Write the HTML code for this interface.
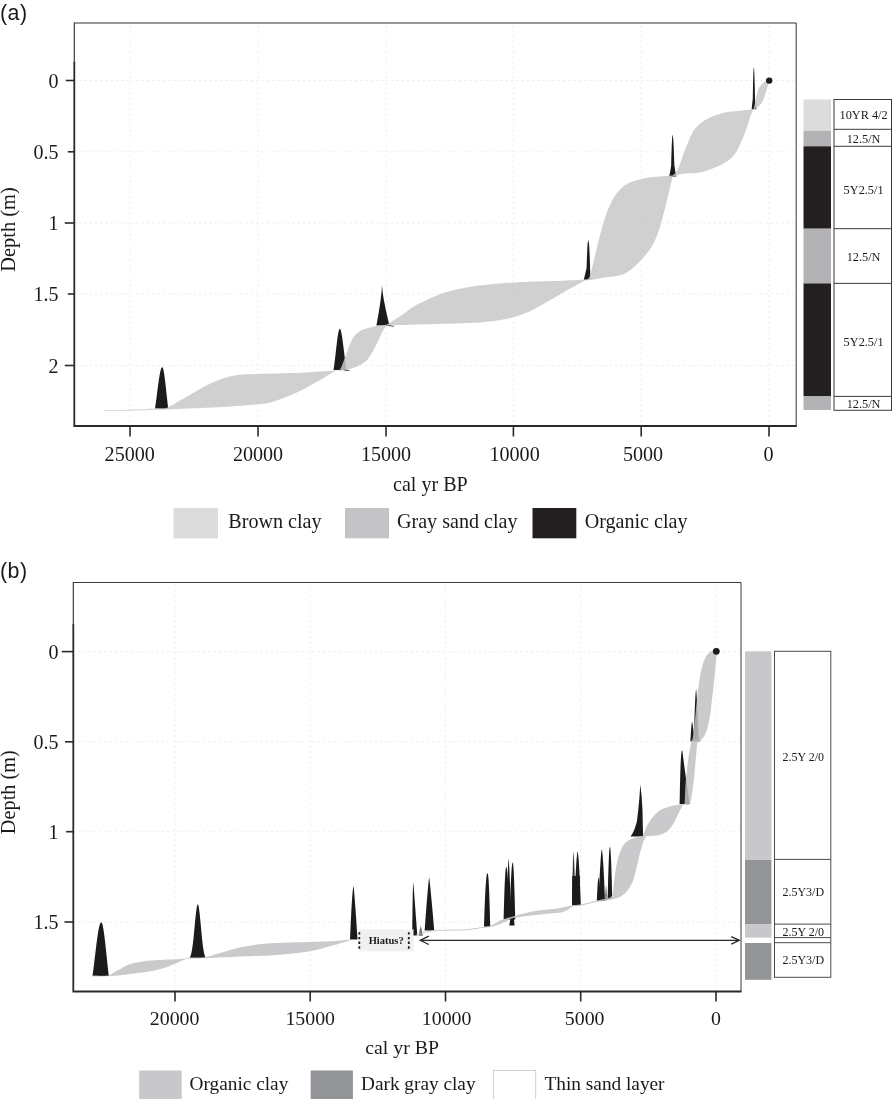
<!DOCTYPE html>
<html><head><meta charset="utf-8"><title>Age-depth models</title>
<style>html,body{margin:0;padding:0;background:#fff;}body{width:892px;height:1099px;overflow:hidden;font-family:"Liberation Serif",serif;}svg{will-change:transform;transform:translateZ(0);}svg text{white-space:pre;-webkit-font-smoothing:antialiased;}</style>
</head><body>
<svg width="892" height="1099" viewBox="0 0 892 1099" style="display:block">
<rect width="892" height="1099" fill="#fff"/>
<line x1="130.0" y1="25.0" x2="130.0" y2="426.0" stroke="#ebebeb" stroke-width="1" stroke-dasharray="2 3.2"/>
<line x1="258.0" y1="25.0" x2="258.0" y2="426.0" stroke="#ebebeb" stroke-width="1" stroke-dasharray="2 3.2"/>
<line x1="386.0" y1="25.0" x2="386.0" y2="426.0" stroke="#ebebeb" stroke-width="1" stroke-dasharray="2 3.2"/>
<line x1="513.4" y1="25.0" x2="513.4" y2="426.0" stroke="#ebebeb" stroke-width="1" stroke-dasharray="2 3.2"/>
<line x1="641.2" y1="25.0" x2="641.2" y2="426.0" stroke="#ebebeb" stroke-width="1" stroke-dasharray="2 3.2"/>
<line x1="769.0" y1="25.0" x2="769.0" y2="426.0" stroke="#ebebeb" stroke-width="1" stroke-dasharray="2 3.2"/>
<line x1="74.3" y1="80.5" x2="796.2" y2="80.5" stroke="#ebebeb" stroke-width="1" stroke-dasharray="2 3.2"/>
<line x1="74.3" y1="151.8" x2="796.2" y2="151.8" stroke="#ebebeb" stroke-width="1" stroke-dasharray="2 3.2"/>
<line x1="74.3" y1="223.0" x2="796.2" y2="223.0" stroke="#ebebeb" stroke-width="1" stroke-dasharray="2 3.2"/>
<line x1="74.3" y1="294.0" x2="796.2" y2="294.0" stroke="#ebebeb" stroke-width="1" stroke-dasharray="2 3.2"/>
<line x1="74.3" y1="365.5" x2="796.2" y2="365.5" stroke="#ebebeb" stroke-width="1" stroke-dasharray="2 3.2"/>
<path d="M155.00 408.60 L155.44 405.57 L155.88 402.38 L156.32 399.08 L156.76 395.69 L157.20 392.26 L157.64 388.84 L158.08 385.49 L158.52 382.26 L158.96 379.21 L159.40 376.39 L159.84 373.87 L160.28 371.70 L160.72 369.91 L161.16 368.55 L161.60 367.65 L162.04 367.23 L162.20 367.20 L162.48 367.34 L162.92 368.14 L163.36 369.60 L163.80 371.70 L164.24 374.35 L164.68 377.49 L165.12 381.01 L165.56 384.83 L166.00 388.84 L166.44 392.95 L166.88 397.05 L167.32 401.07 L167.76 404.94 L168.20 408.60 Z" fill="#1c1a1b"/>
<path d="M333.50 370.00 L333.93 367.13 L334.37 363.96 L334.80 360.55 L335.23 356.93 L335.67 353.18 L336.10 349.37 L336.53 345.61 L336.97 341.98 L337.40 338.61 L337.83 335.59 L338.27 333.03 L338.70 331.02 L339.13 329.63 L339.57 328.90 L339.80 328.80 L340.00 328.87 L340.43 329.46 L340.87 330.65 L341.30 332.40 L341.73 334.66 L342.17 337.34 L342.60 340.38 L343.03 343.69 L343.47 347.17 L343.90 350.74 L344.33 354.31 L344.77 357.81 L345.20 361.18 L345.63 364.36 L346.07 367.31 L346.50 370.00 Z" fill="#1c1a1b"/>
<path d="M345 369.6 L349.5 370.3 L349.5 371 L344 370.8 Z" fill="#444"/>
<path d="M376.40 325.40 L376.84 323.11 L377.27 320.76 L377.71 318.35 L378.15 315.87 L378.58 313.31 L379.02 310.65 L379.46 307.89 L379.89 304.98 L380.33 301.91 L380.77 298.59 L381.20 294.92 L381.64 290.60 L382.00 285.00 L382.08 286.49 L382.51 290.86 L382.95 294.13 L383.39 296.98 L383.82 299.59 L384.26 302.03 L384.70 304.34 L385.13 306.55 L385.57 308.67 L386.01 310.72 L386.44 312.71 L386.88 314.65 L387.32 316.54 L387.75 318.38 L388.19 320.18 L388.63 321.95 L389.06 323.69 L389.50 325.40 Z" fill="#1c1a1b"/>
<path d="M388 324.6 L394 326 L394 326.7 L387 325.8 Z" fill="#444"/>
<path d="M586.30 279.60 L586.44 273.96 L586.57 268.80 L586.71 264.10 L586.85 259.87 L586.98 256.09 L587.12 252.75 L587.26 249.84 L587.39 247.36 L587.53 245.29 L587.67 243.62 L587.80 242.32 L587.94 241.40 L588.08 240.81 L588.21 240.54 L588.30 240.50 L588.35 240.51 L588.49 240.69 L588.62 241.14 L588.76 241.88 L588.90 242.95 L589.03 244.36 L589.17 246.13 L589.31 248.26 L589.44 250.76 L589.58 253.66 L589.72 256.95 L589.85 260.64 L589.99 264.75 L590.13 269.27 L590.26 274.22 L590.40 279.60 Z" fill="#1c1a1b"/>
<path d="M586.6 268 L583.8 279.7 L588 279.7 Z" fill="#1c1a1b"/>
<path d="M670.90 176.30 L671.02 170.52 L671.15 165.18 L671.27 160.28 L671.39 155.81 L671.52 151.77 L671.64 148.17 L671.76 145.00 L671.89 142.27 L672.01 139.97 L672.13 138.11 L672.26 136.68 L672.38 135.69 L672.50 135.13 L672.60 135.00 L672.63 135.01 L672.75 135.23 L672.87 135.77 L673.00 136.62 L673.12 137.79 L673.24 139.27 L673.37 141.07 L673.49 143.18 L673.61 145.60 L673.74 148.34 L673.86 151.39 L673.98 154.76 L674.11 158.44 L674.23 162.43 L674.35 166.74 L674.48 171.36 L674.60 176.30 Z" fill="#1c1a1b"/>
<path d="M671.2 166 L669.2 176.4 L676.3 176.4 L674.3 166 Z" fill="#1c1a1b"/>
<path d="M752.60 109.00 L752.69 103.19 L752.77 97.82 L752.86 92.89 L752.95 88.39 L753.03 84.32 L753.12 80.69 L753.21 77.49 L753.29 74.73 L753.38 72.41 L753.47 70.52 L753.55 69.06 L753.64 68.04 L753.73 67.46 L753.80 67.30 L753.81 67.30 L753.90 67.51 L753.99 68.04 L754.07 68.89 L754.16 70.06 L754.25 71.54 L754.33 73.35 L754.42 75.48 L754.51 77.92 L754.59 80.69 L754.68 83.78 L754.77 87.18 L754.85 90.91 L754.94 94.95 L755.03 99.31 L755.11 104.00 L755.20 109.00 Z" fill="#1c1a1b"/>
<path d="M752.8 100 L751.6 109.2 L756.4 109.2 L755 100 Z" fill="#1c1a1b"/>
<g opacity="0.85">
<path d="M104.00 410.10 C108.33 410.05 121.33 410.05 130.00 409.80 C138.67 409.55 149.67 409.03 156.00 408.60 C162.33 408.17 159.42 411.13 168.00 407.20 C176.58 403.27 196.83 390.20 207.50 385.00 C218.17 379.80 223.75 377.83 232.00 376.00 C240.25 374.17 245.67 374.55 257.00 374.00 C268.33 373.45 287.00 373.28 300.00 372.70 C313.00 372.12 329.17 370.87 335.00 370.50 L335.00 371.00 C332.50 372.50 325.83 376.67 320.00 380.00 C314.17 383.33 308.00 387.33 300.00 391.00 C292.00 394.67 280.33 399.67 272.00 402.00 C263.67 404.33 260.00 404.08 250.00 405.00 C240.00 405.92 225.67 406.77 212.00 407.50 C198.33 408.23 177.33 409.02 168.00 409.40 C158.67 409.78 162.33 409.58 156.00 409.80 C149.67 410.02 138.67 410.53 130.00 410.70 C121.33 410.87 108.33 410.78 104.00 410.80 Z" fill="#c8c8c8"/>
<path d="M335.00 370.50 C335.83 370.33 338.33 371.67 340.00 369.50 C341.67 367.33 342.92 362.62 345.00 357.50 C347.08 352.38 350.00 343.22 352.50 338.80 C355.00 334.38 357.08 332.88 360.00 331.00 C362.92 329.12 366.67 328.42 370.00 327.50 C373.33 326.58 377.17 325.95 380.00 325.50 C382.83 325.05 385.83 324.92 387.00 324.80 L387.50 324.50 C386.97 325.17 385.80 325.92 384.30 328.50 C382.80 331.08 380.42 336.17 378.50 340.00 C376.58 343.83 374.87 348.00 372.80 351.50 C370.73 355.00 368.82 358.45 366.10 361.00 C363.38 363.55 359.68 365.33 356.50 366.80 C353.32 368.27 349.75 369.10 347.00 369.80 C344.25 370.50 342.00 370.80 340.00 371.00 C338.00 371.20 335.83 371.00 335.00 371.00 Z" fill="#c8c8c8"/>
<path d="M387.00 324.60 C389.58 322.92 397.50 317.80 402.50 314.50 C407.50 311.20 410.47 308.28 417.00 304.80 C423.53 301.32 433.48 296.50 441.70 293.60 C449.92 290.70 458.08 288.97 466.30 287.40 C474.52 285.83 482.77 285.03 491.00 284.20 C499.23 283.37 505.43 282.92 515.70 282.40 C525.97 281.88 541.05 281.53 552.60 281.10 C564.15 280.67 579.60 280.02 585.00 279.80 L585.00 280.50 C582.48 281.88 575.30 285.75 569.90 288.80 C564.50 291.85 558.77 295.32 552.60 298.80 C546.43 302.28 538.65 306.87 532.90 309.70 C527.15 312.53 523.03 314.15 518.10 315.80 C513.17 317.45 509.87 318.47 503.30 319.60 C496.73 320.73 491.03 321.82 478.70 322.60 C466.37 323.38 444.58 323.82 429.30 324.30 C414.02 324.78 394.05 325.30 387.00 325.50 Z" fill="#c8c8c8"/>
<path d="M585.00 279.80 C585.78 279.27 588.17 280.12 589.70 276.60 C591.23 273.08 592.33 266.18 594.20 258.70 C596.07 251.22 598.67 239.75 600.90 231.70 C603.13 223.65 604.98 216.75 607.60 210.40 C610.22 204.05 613.23 198.08 616.60 193.60 C619.97 189.12 623.32 186.03 627.80 183.50 C632.28 180.97 638.63 179.52 643.50 178.40 C648.37 177.28 652.17 177.28 657.00 176.80 C661.83 176.32 669.92 175.72 672.50 175.50 L672.60 177.00 C671.48 181.63 668.13 196.05 665.90 204.80 C663.67 213.55 661.43 222.77 659.20 229.50 C656.97 236.23 655.12 240.53 652.50 245.20 C649.88 249.87 646.50 253.95 643.50 257.50 C640.50 261.05 637.48 263.88 634.50 266.50 C631.52 269.12 628.58 271.60 625.60 273.20 C622.62 274.80 620.72 275.27 616.60 276.10 C612.48 276.93 605.33 277.55 600.90 278.20 C596.47 278.85 592.65 279.62 590.00 280.00 C587.35 280.38 585.83 280.42 585.00 280.50 Z" fill="#c8c8c8"/>
<path d="M672.50 175.50 C673.33 174.58 675.42 174.25 677.50 170.00 C679.58 165.75 682.50 156.25 685.00 150.00 C687.50 143.75 690.00 136.87 692.50 132.50 C695.00 128.13 697.08 126.30 700.00 123.80 C702.92 121.30 705.83 119.38 710.00 117.50 C714.17 115.62 720.00 113.62 725.00 112.50 C730.00 111.38 735.33 111.33 740.00 110.80 C744.67 110.27 750.83 109.55 753.00 109.30 L753.00 110.00 C752.50 111.25 751.17 114.17 750.00 117.50 C748.83 120.83 747.50 125.83 746.00 130.00 C744.50 134.17 742.83 138.53 741.00 142.50 C739.17 146.47 737.25 150.72 735.00 153.80 C732.75 156.88 730.83 158.72 727.50 161.00 C724.17 163.28 719.58 165.58 715.00 167.50 C710.42 169.42 705.42 171.45 700.00 172.50 C694.58 173.55 687.08 173.05 682.50 173.80 C677.92 174.55 674.17 176.47 672.50 177.00 Z" fill="#c8c8c8"/>
<path d="M753.00 109.30 C753.20 108.88 753.62 109.05 754.20 106.80 C754.78 104.55 755.72 98.93 756.50 95.80 C757.28 92.67 757.72 90.22 758.90 88.00 C760.08 85.78 762.17 83.82 763.60 82.50 C765.03 81.18 766.60 80.55 767.50 80.10 C768.40 79.65 768.75 79.85 769.00 79.80 L769.30 81.50 C769.18 81.80 769.03 81.97 768.60 83.30 C768.17 84.63 767.53 86.90 766.70 89.50 C765.87 92.10 764.63 96.42 763.60 98.90 C762.57 101.38 761.82 102.78 760.50 104.40 C759.18 106.02 756.95 107.67 755.70 108.60 C754.45 109.53 753.45 109.77 753.00 110.00 Z" fill="#c8c8c8"/>
</g>
<circle cx="769.2" cy="80.6" r="3.2" fill="#1c1a1b"/>
<path d="M74.3 23.0 H796.2 V426.0" fill="none" stroke="#333" stroke-width="1"/>
<path d="M74.3 22.5 V63.0" fill="none" stroke="#2a2a2a" stroke-width="1.1"/>
<path d="M74.3 62.0 V426.0 H796.7" fill="none" stroke="#2a2a2a" stroke-width="1.8"/>
<line x1="65.8" y1="80.5" x2="74.3" y2="80.5" stroke="#2a2a2a" stroke-width="1.6"/>
<text x="58.5" y="88.1" font-size="20" text-anchor="end" font-family="Liberation Serif, serif" fill="#1a1a1a">0</text>
<line x1="67.8" y1="151.8" x2="74.3" y2="151.8" stroke="#2a2a2a" stroke-width="1.6"/>
<text x="58.5" y="158.7" font-size="20" text-anchor="end" font-family="Liberation Serif, serif" fill="#1a1a1a">0.5</text>
<line x1="64.8" y1="223.0" x2="74.3" y2="223.0" stroke="#2a2a2a" stroke-width="1.6"/>
<text x="58.5" y="230.0" font-size="20" text-anchor="end" font-family="Liberation Serif, serif" fill="#1a1a1a">1</text>
<line x1="67.8" y1="294.0" x2="74.3" y2="294.0" stroke="#2a2a2a" stroke-width="1.6"/>
<text x="58.5" y="300.9" font-size="20" text-anchor="end" font-family="Liberation Serif, serif" fill="#1a1a1a">1.5</text>
<line x1="64.8" y1="365.5" x2="74.3" y2="365.5" stroke="#2a2a2a" stroke-width="1.6"/>
<text x="58.5" y="372.5" font-size="20" text-anchor="end" font-family="Liberation Serif, serif" fill="#1a1a1a">2</text>
<line x1="130.0" y1="426.0" x2="130.0" y2="436.5" stroke="#2a2a2a" stroke-width="1.6"/>
<text x="129.7" y="460.6" font-size="20.1" text-anchor="middle" font-family="Liberation Serif, serif" fill="#1a1a1a">25000</text>
<line x1="258.0" y1="426.0" x2="258.0" y2="436.5" stroke="#2a2a2a" stroke-width="1.6"/>
<text x="258.0" y="460.6" font-size="20.1" text-anchor="middle" font-family="Liberation Serif, serif" fill="#1a1a1a">20000</text>
<line x1="386.0" y1="426.0" x2="386.0" y2="436.5" stroke="#2a2a2a" stroke-width="1.6"/>
<text x="386.0" y="460.6" font-size="20.1" text-anchor="middle" font-family="Liberation Serif, serif" fill="#1a1a1a">15000</text>
<line x1="513.4" y1="426.0" x2="513.4" y2="436.5" stroke="#2a2a2a" stroke-width="1.6"/>
<text x="514.6" y="460.6" font-size="20.1" text-anchor="middle" font-family="Liberation Serif, serif" fill="#1a1a1a">10000</text>
<line x1="641.2" y1="426.0" x2="641.2" y2="436.5" stroke="#2a2a2a" stroke-width="1.6"/>
<text x="643.0" y="460.6" font-size="20.1" text-anchor="middle" font-family="Liberation Serif, serif" fill="#1a1a1a">5000</text>
<line x1="769.0" y1="426.0" x2="769.0" y2="436.5" stroke="#2a2a2a" stroke-width="1.6"/>
<text x="768.4" y="460.6" font-size="20.1" text-anchor="middle" font-family="Liberation Serif, serif" fill="#1a1a1a">0</text>
<text x="393" y="491" font-size="20.1" font-family="Liberation Serif, serif" fill="#1a1a1a">cal yr BP</text>
<text transform="translate(14.9 229.5) rotate(-90)" font-size="20.4" text-anchor="middle" font-family="Liberation Serif, serif" fill="#1a1a1a">Depth (m)</text>
<text x="0" y="19.6" font-size="21.4" letter-spacing="0.5" font-family="Liberation Sans, sans-serif" fill="#1a1a1a">(a)</text>
<rect x="803.5" y="99.5" width="27.5" height="31.3" fill="#dcdcdc"/>
<rect x="803.5" y="130.8" width="27.5" height="15.5" fill="#b3b3b6"/>
<rect x="803.5" y="146.3" width="27.5" height="82.4" fill="#231f20"/>
<rect x="803.5" y="228.7" width="27.5" height="54.7" fill="#b3b3b6"/>
<rect x="803.5" y="283.4" width="27.5" height="113.0" fill="#231f20"/>
<rect x="803.5" y="396.4" width="27.5" height="13.6" fill="#b3b3b6"/>
<rect x="834.0" y="99.5" width="57.5" height="310.8" fill="#fff" stroke="#3a3a3a" stroke-width="1"/>
<line x1="834.0" y1="129.3" x2="891.5" y2="129.3" stroke="#3a3a3a" stroke-width="1"/>
<line x1="834.0" y1="146.3" x2="891.5" y2="146.3" stroke="#3a3a3a" stroke-width="1"/>
<line x1="834.0" y1="228.7" x2="891.5" y2="228.7" stroke="#3a3a3a" stroke-width="1"/>
<line x1="834.0" y1="283.4" x2="891.5" y2="283.4" stroke="#3a3a3a" stroke-width="1"/>
<line x1="834.0" y1="396.4" x2="891.5" y2="396.4" stroke="#3a3a3a" stroke-width="1"/>
<text x="863.6" y="119.0" font-size="12.3" text-anchor="middle" font-family="Liberation Serif, serif" fill="#1a1a1a">10YR 4/2</text>
<text x="863.6" y="143.0" font-size="12.3" text-anchor="middle" font-family="Liberation Serif, serif" fill="#1a1a1a">12.5/N</text>
<text x="863.6" y="193.5" font-size="12.3" text-anchor="middle" font-family="Liberation Serif, serif" fill="#1a1a1a">5Y2.5/1</text>
<text x="863.6" y="261.3" font-size="12.3" text-anchor="middle" font-family="Liberation Serif, serif" fill="#1a1a1a">12.5/N</text>
<text x="863.6" y="345.6" font-size="12.3" text-anchor="middle" font-family="Liberation Serif, serif" fill="#1a1a1a">5Y2.5/1</text>
<text x="863.6" y="407.8" font-size="12.3" text-anchor="middle" font-family="Liberation Serif, serif" fill="#1a1a1a">12.5/N</text>
<rect x="173.5" y="508" width="44.5" height="30.3" fill="#dcdcdc"/>
<text x="228.3" y="528" font-size="20.1" font-family="Liberation Serif, serif" fill="#1a1a1a">Brown clay</text>
<rect x="345.0" y="508" width="44.0" height="30.3" fill="#c4c4c6"/>
<text x="397.0" y="528" font-size="20.1" font-family="Liberation Serif, serif" fill="#1a1a1a">Gray sand clay</text>
<rect x="532.5" y="508" width="43.8" height="30.3" fill="#231f20"/>
<text x="584.7" y="528" font-size="20.1" font-family="Liberation Serif, serif" fill="#1a1a1a">Organic clay</text>
<line x1="175.0" y1="584.5" x2="175.0" y2="991.5" stroke="#ebebeb" stroke-width="1" stroke-dasharray="2 3.2"/>
<line x1="310.2" y1="584.5" x2="310.2" y2="991.5" stroke="#ebebeb" stroke-width="1" stroke-dasharray="2 3.2"/>
<line x1="445.5" y1="584.5" x2="445.5" y2="991.5" stroke="#ebebeb" stroke-width="1" stroke-dasharray="2 3.2"/>
<line x1="580.7" y1="584.5" x2="580.7" y2="991.5" stroke="#ebebeb" stroke-width="1" stroke-dasharray="2 3.2"/>
<line x1="716.0" y1="584.5" x2="716.0" y2="991.5" stroke="#ebebeb" stroke-width="1" stroke-dasharray="2 3.2"/>
<line x1="73.3" y1="651.6" x2="741.0" y2="651.6" stroke="#ebebeb" stroke-width="1" stroke-dasharray="2 3.2"/>
<line x1="73.3" y1="741.8" x2="741.0" y2="741.8" stroke="#ebebeb" stroke-width="1" stroke-dasharray="2 3.2"/>
<line x1="73.3" y1="831.7" x2="741.0" y2="831.7" stroke="#ebebeb" stroke-width="1" stroke-dasharray="2 3.2"/>
<line x1="73.3" y1="922.0" x2="741.0" y2="922.0" stroke="#ebebeb" stroke-width="1" stroke-dasharray="2 3.2"/>
<path d="M92.50 976.00 L93.04 971.98 L93.59 967.75 L94.13 963.36 L94.67 958.86 L95.22 954.32 L95.76 949.79 L96.30 945.37 L96.85 941.12 L97.39 937.13 L97.93 933.47 L98.48 930.23 L99.02 927.47 L99.56 925.25 L100.11 923.63 L100.65 922.64 L101.19 922.30 L101.20 922.30 L101.74 922.72 L102.28 924.00 L102.82 926.09 L103.37 928.93 L103.91 932.44 L104.45 936.52 L105.00 941.06 L105.54 945.94 L106.08 951.03 L106.63 956.23 L107.17 961.42 L107.71 966.50 L108.26 971.38 L108.80 976.00 Z" fill="#1c1a1b"/>
<path d="M189.80 957.70 L190.33 956.59 L190.85 955.05 L191.38 952.98 L191.91 950.30 L192.43 946.94 L192.96 942.90 L193.49 938.21 L194.01 932.98 L194.54 927.43 L195.07 921.80 L195.59 916.44 L196.12 911.70 L196.65 907.92 L197.17 905.39 L197.70 904.33 L197.80 904.30 L198.23 904.84 L198.75 906.93 L199.28 910.42 L199.81 915.03 L200.33 920.39 L200.86 926.12 L201.39 931.86 L201.91 937.30 L202.44 942.22 L202.97 946.46 L203.49 949.99 L204.02 952.80 L204.55 954.95 L205.07 956.55 L205.60 957.70 Z" fill="#1c1a1b"/>
<path d="M350.00 939.60 L350.25 933.63 L350.50 927.93 L350.75 922.50 L351.00 917.37 L351.25 912.53 L351.50 908.01 L351.75 903.82 L352.00 899.97 L352.25 896.48 L352.50 893.40 L352.75 890.74 L353.00 888.57 L353.25 886.98 L353.50 886.20 L353.50 886.20 L353.75 888.12 L354.00 890.60 L354.25 893.36 L354.50 896.32 L354.75 899.42 L355.00 902.66 L355.25 906.00 L355.50 909.44 L355.75 912.97 L356.00 916.58 L356.25 920.26 L356.50 924.01 L356.75 927.82 L357.00 931.69 L357.25 935.62 L357.50 939.60 Z" fill="#1c1a1b"/>
<path d="M412.20 935.60 L412.37 918.84 L412.54 905.76 L412.71 896.04 L412.88 889.33 L413.05 885.23 L413.22 883.26 L413.39 882.80 L413.40 882.80 L413.56 884.97 L413.73 887.27 L413.90 889.57 L414.07 891.87 L414.24 894.17 L414.41 896.47 L414.58 898.78 L414.75 901.08 L414.92 903.38 L415.09 905.68 L415.26 907.98 L415.43 910.28 L415.60 912.58 L415.77 914.89 L415.94 917.19 L416.11 919.49 L416.28 921.79 L416.45 924.09 L416.62 926.39 L416.79 928.70 L416.96 931.00 L417.13 933.30 L417.30 935.60 Z" fill="#1c1a1b"/>
<path d="M418.80 935.70 L418.93 934.82 L419.07 933.97 L419.20 933.13 L419.33 932.32 L419.47 931.53 L419.60 930.77 L419.73 930.03 L419.87 929.32 L420.00 928.65 L420.13 928.01 L420.27 927.42 L420.40 926.88 L420.53 926.41 L420.67 926.05 L420.70 926.00 L420.80 926.19 L420.93 926.56 L421.07 927.00 L421.20 927.50 L421.33 928.04 L421.47 928.62 L421.60 929.22 L421.73 929.86 L421.87 930.52 L422.00 931.20 L422.13 931.90 L422.27 932.63 L422.40 933.37 L422.53 934.13 L422.67 934.91 L422.80 935.70 Z" fill="#6e6e6e"/>
<path d="M424.60 930.60 L424.92 926.26 L425.24 921.96 L425.56 917.72 L425.88 913.54 L426.20 909.42 L426.52 905.36 L426.84 901.39 L427.16 897.49 L427.48 893.69 L427.80 890.01 L428.12 886.45 L428.44 883.07 L428.76 879.94 L429.08 877.31 L429.10 877.20 L429.40 879.25 L429.72 881.93 L430.04 884.84 L430.36 887.90 L430.68 891.08 L431.00 894.36 L431.32 897.72 L431.64 901.15 L431.96 904.66 L432.28 908.22 L432.60 911.83 L432.92 915.50 L433.24 919.21 L433.56 922.97 L433.88 926.77 L434.20 930.60 Z" fill="#1c1a1b"/>
<path d="M484.00 926.80 L484.21 920.08 L484.41 913.85 L484.62 908.10 L484.83 902.83 L485.03 898.02 L485.24 893.68 L485.45 889.78 L485.65 886.33 L485.86 883.31 L486.07 880.72 L486.27 878.54 L486.48 876.76 L486.69 875.36 L486.89 874.33 L487.10 873.65 L487.31 873.29 L487.50 873.20 L487.51 873.20 L487.72 873.42 L487.93 874.13 L488.13 875.41 L488.34 877.31 L488.55 879.86 L488.75 883.11 L488.96 887.06 L489.17 891.75 L489.37 897.18 L489.58 903.39 L489.79 910.39 L489.99 918.19 L490.20 926.80 Z" fill="#1c1a1b"/>
<path d="M503.60 919.20 L503.80 911.57 L503.99 904.54 L504.19 898.12 L504.39 892.29 L504.58 887.06 L504.78 882.43 L504.98 878.40 L505.17 874.97 L505.37 872.14 L505.57 869.91 L505.76 868.28 L505.96 867.25 L506.16 866.81 L506.20 866.80 L506.35 866.91 L506.55 867.39 L506.75 868.24 L506.94 869.46 L507.14 871.05 L507.34 873.02 L507.53 875.35 L507.73 878.06 L507.93 881.15 L508.12 884.60 L508.32 888.43 L508.52 892.62 L508.71 897.20 L508.91 902.14 L509.11 907.45 L509.30 913.14 L509.50 919.20 Z" fill="#1c1a1b"/>
<path d="M506.30 919.20 L506.46 913.30 L506.63 907.58 L506.79 902.05 L506.95 896.71 L507.12 891.58 L507.28 886.67 L507.44 882.00 L507.61 877.58 L507.77 873.45 L507.93 869.63 L508.10 866.17 L508.26 863.14 L508.42 860.66 L508.59 859.04 L508.60 859.00 L508.75 860.11 L508.91 862.11 L509.08 864.60 L509.24 867.46 L509.40 870.63 L509.57 874.07 L509.73 877.75 L509.89 881.65 L510.06 885.75 L510.22 890.04 L510.38 894.51 L510.55 899.15 L510.71 903.94 L510.87 908.88 L511.04 913.97 L511.20 919.20 Z" fill="#1c1a1b"/>
<path d="M509.60 919.50 L509.79 912.84 L509.97 906.60 L510.16 900.77 L510.35 895.35 L510.53 890.34 L510.72 885.75 L510.91 881.58 L511.09 877.81 L511.28 874.46 L511.47 871.52 L511.65 869.00 L511.84 866.89 L512.03 865.19 L512.21 863.90 L512.40 863.03 L512.59 862.58 L512.70 862.50 L512.77 862.55 L512.96 863.12 L513.15 864.32 L513.33 866.16 L513.52 868.63 L513.71 871.74 L513.89 875.49 L514.08 879.87 L514.27 884.88 L514.45 890.54 L514.64 896.82 L514.83 903.75 L515.01 911.31 L515.20 919.50 Z" fill="#1c1a1b"/>
<path d="M511 915 L509.3 925.5 L514.6 925.5 L513.6 915 Z" fill="#1c1a1b"/>
<path d="M572.00 905.20 L572.12 898.09 L572.24 891.38 L572.36 885.06 L572.48 879.17 L572.60 873.73 L572.72 868.75 L572.84 864.28 L572.96 860.35 L573.08 857.02 L573.20 854.36 L573.32 852.55 L573.40 852.00 L573.44 852.09 L573.56 852.80 L573.68 853.97 L573.80 855.48 L573.92 857.29 L574.04 859.38 L574.16 861.71 L574.28 864.28 L574.40 867.07 L574.52 870.06 L574.64 873.26 L574.76 876.64 L574.88 880.21 L575.00 883.96 L575.12 887.88 L575.24 891.97 L575.36 896.22 L575.48 900.63 L575.60 905.20 Z" fill="#3a3839"/>
<path d="M574.40 905.10 L574.61 899.20 L574.83 893.59 L575.04 888.27 L575.25 883.26 L575.47 878.55 L575.68 874.17 L575.89 870.11 L576.11 866.39 L576.32 863.03 L576.53 860.03 L576.75 857.43 L576.96 855.26 L577.17 853.53 L577.39 852.33 L577.60 851.80 L577.60 851.80 L577.81 852.33 L578.03 853.53 L578.24 855.26 L578.45 857.43 L578.67 860.03 L578.88 863.03 L579.09 866.39 L579.31 870.11 L579.52 874.17 L579.73 878.55 L579.95 883.26 L580.16 888.27 L580.37 893.59 L580.59 899.20 L580.80 905.10 Z" fill="#1c1a1b"/>
<path d="M572.2 876 L572 905.2 L580 905.2 L580 876 Z" fill="#1c1a1b"/>
<path d="M598.60 900.70 L598.81 895.36 L599.03 890.24 L599.24 885.36 L599.45 880.71 L599.67 876.31 L599.88 872.17 L600.09 868.29 L600.31 864.69 L600.52 861.40 L600.73 858.41 L600.95 855.77 L601.16 853.49 L601.37 851.63 L601.59 850.27 L601.80 849.60 L601.80 849.60 L602.01 850.27 L602.23 851.63 L602.44 853.49 L602.65 855.77 L602.87 858.41 L603.08 861.40 L603.29 864.69 L603.51 868.29 L603.72 872.17 L603.93 876.31 L604.15 880.71 L604.36 885.36 L604.57 890.24 L604.79 895.36 L605.00 900.70 Z" fill="#1c1a1b"/>
<path d="M596.80 900.80 L596.94 897.80 L597.08 894.93 L597.22 892.22 L597.36 889.66 L597.50 887.27 L597.64 885.06 L597.78 883.04 L597.92 881.25 L598.06 879.69 L598.20 878.43 L598.34 877.57 L598.40 877.40 L598.48 877.53 L598.62 877.98 L598.76 878.61 L598.90 879.37 L599.04 880.26 L599.18 881.25 L599.32 882.33 L599.46 883.49 L599.60 884.74 L599.74 886.06 L599.88 887.45 L600.02 888.91 L600.16 890.43 L600.30 892.02 L600.44 893.66 L600.58 895.37 L600.72 897.12 L600.86 898.94 L601.00 900.80 Z" fill="#1c1a1b"/>
<path d="M604.60 900.30 L604.70 898.91 L604.80 897.56 L604.90 896.24 L605.00 894.95 L605.10 893.70 L605.20 892.50 L605.30 891.33 L605.40 890.22 L605.50 889.16 L605.60 888.16 L605.70 887.24 L605.80 886.40 L605.90 885.69 L606.00 885.20 L606.00 885.20 L606.10 885.61 L606.20 886.21 L606.30 886.91 L606.40 887.69 L606.50 888.53 L606.60 889.42 L606.70 890.36 L606.80 891.33 L606.90 892.35 L607.00 893.40 L607.10 894.48 L607.20 895.59 L607.30 896.73 L607.40 897.89 L607.50 899.08 L607.60 900.30 Z" fill="#8a8a8a"/>
<path d="M607.70 898.60 L607.85 891.78 L608.00 885.44 L608.15 879.58 L608.30 874.20 L608.45 869.30 L608.60 864.89 L608.75 860.95 L608.90 857.50 L609.05 854.53 L609.20 852.04 L609.35 850.04 L609.50 848.51 L609.65 847.47 L609.80 846.91 L609.90 846.80 L609.95 846.82 L610.10 847.19 L610.25 848.00 L610.40 849.25 L610.55 850.94 L610.70 853.07 L610.85 855.64 L611.00 858.65 L611.15 862.10 L611.30 865.99 L611.45 870.33 L611.60 875.10 L611.75 880.31 L611.90 885.97 L612.05 892.06 L612.20 898.60 Z" fill="#1c1a1b"/>
<path d="M640.3 784.5 L639.4 797.8 L638.3 809.6 L636.9 821.4 L635.6 826 L634.3 829.7 L632.5 833.5 L630.6 836.4 L643.2 836.4 L642.8 826 L642.5 810 L641.5 795 Z" fill="#1c1a1b"/>
<path d="M679.60 804.00 L679.94 786.75 L680.28 773.66 L680.62 764.17 L680.96 757.69 L681.30 753.65 L681.64 751.47 L681.98 750.58 L682.32 750.40 L682.40 750.40 L682.66 753.03 L683.00 755.99 L683.34 758.77 L683.68 761.45 L684.02 764.06 L684.36 766.61 L684.70 769.12 L685.04 771.60 L685.38 774.04 L685.72 776.45 L686.06 778.84 L686.40 781.21 L686.74 783.56 L687.08 785.89 L687.42 788.20 L687.76 790.50 L688.10 792.78 L688.44 795.05 L688.78 797.30 L689.12 799.55 L689.46 801.78 L689.80 804.00 Z" fill="#1c1a1b"/>
<path d="M693.80 741.20 L693.97 734.88 L694.13 728.93 L694.30 723.35 L694.47 718.15 L694.63 713.33 L694.80 708.91 L694.97 704.89 L695.13 701.28 L695.30 698.10 L695.47 695.35 L695.63 693.07 L695.80 691.27 L695.97 689.98 L696.13 689.28 L696.20 689.20 L696.30 690.24 L696.47 692.58 L696.63 695.26 L696.80 698.15 L696.97 701.21 L697.13 704.41 L697.30 707.72 L697.47 711.14 L697.63 714.65 L697.80 718.24 L697.97 721.91 L698.13 725.64 L698.30 729.44 L698.47 733.31 L698.63 737.23 L698.80 741.20 Z" fill="#1c1a1b"/>
<path d="M690.40 741.20 L690.54 738.71 L690.68 736.34 L690.82 734.09 L690.96 731.97 L691.10 729.98 L691.24 728.15 L691.38 726.48 L691.52 724.99 L691.66 723.70 L691.80 722.66 L691.94 721.94 L692.00 721.80 L692.08 721.90 L692.22 722.28 L692.36 722.80 L692.50 723.44 L692.64 724.17 L692.78 724.99 L692.92 725.88 L693.06 726.85 L693.20 727.88 L693.34 728.98 L693.48 730.13 L693.62 731.34 L693.76 732.60 L693.90 733.92 L694.04 735.28 L694.18 736.69 L694.32 738.15 L694.46 739.65 L694.60 741.20 Z" fill="#1c1a1b"/>
<path d="M690.4 741.3 L700.6 741.3 L700 739.6 L691 739.6 Z" fill="#555"/>
<g opacity="0.85">
<path d="M92.00 975.50 C94.67 975.50 104.40 976.00 108.00 975.50 C111.60 975.00 111.27 973.75 113.60 972.50 C115.93 971.25 119.20 969.42 122.00 968.00 C124.80 966.58 126.23 965.20 130.40 964.00 C134.57 962.80 141.40 961.52 147.00 960.80 C152.60 960.08 158.37 960.02 164.00 959.70 C169.63 959.38 176.47 959.28 180.80 958.90 C185.13 958.52 188.47 957.65 190.00 957.40 L190.00 958.30 C189.00 958.53 186.67 958.75 184.00 959.70 C181.33 960.65 177.33 962.62 174.00 964.00 C170.67 965.38 168.50 966.70 164.00 968.00 C159.50 969.30 154.00 970.63 147.00 971.80 C140.00 972.97 128.50 974.25 122.00 975.00 C115.50 975.75 113.00 976.05 108.00 976.30 C103.00 976.55 94.67 976.47 92.00 976.50 Z" fill="#c1c1c4"/>
<path d="M190.00 957.80 C192.50 957.72 200.00 958.10 205.00 957.30 C210.00 956.50 214.17 954.63 220.00 953.00 C225.83 951.37 233.33 948.95 240.00 947.50 C246.67 946.05 253.33 945.08 260.00 944.30 C266.67 943.52 271.67 943.18 280.00 942.80 C288.33 942.42 300.83 942.30 310.00 942.00 C319.17 941.70 328.33 941.37 335.00 941.00 C341.67 940.63 347.50 940.00 350.00 939.80 L350.00 940.50 C346.67 941.47 336.67 944.50 330.00 946.30 C323.33 948.10 316.67 950.05 310.00 951.30 C303.33 952.55 296.67 953.10 290.00 953.80 C283.33 954.50 277.50 955.08 270.00 955.50 C262.50 955.92 255.83 955.85 245.00 956.30 C234.17 956.75 214.17 957.83 205.00 958.20 C195.83 958.57 192.50 958.45 190.00 958.50 Z" fill="#c1c1c4"/>
<path d="M416.00 934.60 C418.83 933.87 424.83 931.10 433.00 930.20 C441.17 929.30 456.50 929.78 465.00 929.20 C473.50 928.62 480.83 927.12 484.00 926.70 L484.00 927.70 C480.83 928.13 473.50 929.70 465.00 930.30 C456.50 930.90 441.17 930.42 433.00 931.30 C424.83 932.18 418.83 934.88 416.00 935.60 Z" fill="#c1c1c4"/>
<path d="M484.00 926.70 C484.92 926.58 487.67 926.53 489.50 926.00 C491.33 925.47 492.83 924.58 495.00 923.50 C497.17 922.42 499.25 920.75 502.50 919.50 C505.75 918.25 509.08 917.42 514.50 916.00 C519.92 914.58 528.25 912.20 535.00 911.00 C541.75 909.80 548.83 909.72 555.00 908.80 C561.17 907.88 569.17 906.05 572.00 905.50 L572.50 906.50 C570.83 907.42 567.08 910.75 562.50 912.00 C557.92 913.25 552.92 913.03 545.00 914.00 C537.08 914.97 521.67 916.50 515.00 917.80 C508.33 919.10 508.00 920.55 505.00 921.80 C502.00 923.05 499.58 924.40 497.00 925.30 C494.42 926.20 491.67 926.80 489.50 927.20 C487.33 927.60 484.92 927.62 484.00 927.70 Z" fill="#c1c1c4"/>
<path d="M572.00 905.20 C573.33 905.10 575.75 905.40 580.00 904.60 C584.25 903.80 592.17 901.50 597.50 900.40 C602.83 899.30 609.58 898.40 612.00 898.00 L612.00 899.40 C609.58 899.80 602.83 900.73 597.50 901.80 C592.17 902.87 584.25 905.03 580.00 905.80 C575.75 906.57 573.33 906.30 572.00 906.40 Z" fill="#c1c1c4"/>
<path d="M609.30 898.20 C609.87 897.38 611.75 897.30 612.70 893.30 C613.65 889.30 614.07 880.18 615.00 874.20 C615.93 868.22 617.00 862.07 618.30 857.40 C619.60 852.73 621.12 849.00 622.80 846.20 C624.48 843.40 626.17 842.10 628.40 840.60 C630.63 839.10 633.43 838.03 636.20 837.20 C638.97 836.37 643.53 835.87 645.00 835.60 L645.80 837.00 C645.27 838.15 643.73 840.58 642.60 843.90 C641.47 847.22 640.18 852.17 639.00 856.90 C637.82 861.63 636.67 867.95 635.50 872.30 C634.33 876.65 633.58 879.65 632.00 883.00 C630.42 886.35 628.57 889.85 626.00 892.40 C623.43 894.95 619.38 897.22 616.60 898.30 C613.82 899.38 610.52 898.80 609.30 898.90 Z" fill="#c1c1c4"/>
<path d="M643.20 835.80 C643.67 834.50 644.70 830.75 646.00 828.00 C647.30 825.25 648.63 822.30 651.00 819.30 C653.37 816.30 656.87 812.18 660.20 810.00 C663.53 807.82 667.63 807.10 671.00 806.20 C674.37 805.30 677.90 805.05 680.40 804.60 C682.90 804.15 685.07 803.68 686.00 803.50 L686.00 804.00 C685.50 804.17 683.92 804.07 683.00 805.00 C682.08 805.93 681.52 807.65 680.50 809.60 C679.48 811.55 678.08 814.33 676.90 816.70 C675.72 819.07 674.97 821.43 673.40 823.80 C671.83 826.17 669.87 829.03 667.50 830.90 C665.13 832.77 662.12 834.15 659.20 835.00 C656.28 835.85 652.67 835.75 650.00 836.00 C647.33 836.25 644.33 836.42 643.20 836.50 Z" fill="#c1c1c4"/>
<path d="M684.60 804.00 C684.67 802.50 684.80 798.90 685.00 795.00 C685.20 791.10 685.28 786.35 685.80 780.60 C686.32 774.85 687.33 766.17 688.10 760.50 C688.87 754.83 689.75 749.83 690.40 746.60 C691.05 743.37 690.90 742.10 692.00 741.10 C693.10 740.10 696.17 740.68 697.00 740.60 L697.60 741.30 C697.43 742.70 697.02 745.47 696.60 749.70 C696.18 753.93 695.73 760.25 695.10 766.70 C694.47 773.15 693.70 782.22 692.80 788.40 C691.90 794.58 691.07 801.12 689.70 803.80 C688.33 806.48 685.45 804.38 684.60 804.50 Z" fill="#c1c1c4"/>
<path d="M692.30 741.00 C692.38 740.50 692.33 741.72 692.80 738.00 C693.27 734.28 694.33 725.78 695.10 718.70 C695.87 711.62 696.37 703.62 697.40 695.50 C698.43 687.38 699.82 676.58 701.30 670.00 C702.78 663.42 704.43 659.25 706.30 656.00 C708.17 652.75 710.83 651.45 712.50 650.50 C714.17 649.55 715.67 650.33 716.30 650.30 L716.60 654.00 C716.43 655.83 715.98 660.67 715.60 665.00 C715.22 669.33 714.88 674.40 714.30 680.00 C713.72 685.60 712.85 692.40 712.10 698.60 C711.35 704.80 710.83 711.53 709.80 717.20 C708.77 722.87 707.45 728.73 705.90 732.60 C704.35 736.47 702.77 738.92 700.50 740.40 C698.23 741.88 693.67 741.32 692.30 741.50 Z" fill="#c1c1c4"/>
</g>
<circle cx="716.3" cy="651.3" r="3.4" fill="#1c1a1b"/>
<rect x="359.2" y="929.3" width="54.3" height="22" fill="#f0f0f0"/>
<line x1="359.3" y1="932.2" x2="359.3" y2="950.5" stroke="#1a1a1a" stroke-width="1.8" stroke-dasharray="2.4 2.3"/>
<line x1="408.8" y1="932.2" x2="408.8" y2="950.5" stroke="#1a1a1a" stroke-width="1.8" stroke-dasharray="2.4 2.3"/>
<text x="386.2" y="943.9" font-size="10.5" font-weight="bold" text-anchor="middle" font-family="Liberation Serif, serif" fill="#1a1a1a">Hiatus?</text>
<line x1="420.5" y1="940.3" x2="739" y2="940.3" stroke="#2a2a2a" stroke-width="1.35"/>
<path d="M428.8 936.2 L420.3 940.3 L428.8 944.5" fill="none" stroke="#2a2a2a" stroke-width="1.35"/>
<path d="M731.3 936.6 L739.3 940.3 L731.3 944.2" fill="none" stroke="#2a2a2a" stroke-width="1.35"/>
<path d="M73.3 582.5 H741.0 V991.5" fill="none" stroke="#3a3a3a" stroke-width="1"/>
<path d="M73.3 582.0 V625.0" fill="none" stroke="#2a2a2a" stroke-width="1.1"/>
<path d="M73.3 624.0 V991.5 H741.5" fill="none" stroke="#2a2a2a" stroke-width="1.8"/>
<line x1="61.8" y1="651.6" x2="73.3" y2="651.6" stroke="#2a2a2a" stroke-width="1.6"/>
<text x="58.5" y="658.9" font-size="20" text-anchor="end" font-family="Liberation Serif, serif" fill="#1a1a1a">0</text>
<line x1="65.0" y1="741.8" x2="73.3" y2="741.8" stroke="#2a2a2a" stroke-width="1.6"/>
<text x="58.5" y="749.1" font-size="20" text-anchor="end" font-family="Liberation Serif, serif" fill="#1a1a1a">0.5</text>
<line x1="66.1" y1="831.7" x2="73.3" y2="831.7" stroke="#2a2a2a" stroke-width="1.6"/>
<text x="58.5" y="839.0" font-size="20" text-anchor="end" font-family="Liberation Serif, serif" fill="#1a1a1a">1</text>
<line x1="64.5" y1="922.0" x2="73.3" y2="922.0" stroke="#2a2a2a" stroke-width="1.6"/>
<text x="58.5" y="929.3" font-size="20" text-anchor="end" font-family="Liberation Serif, serif" fill="#1a1a1a">1.5</text>
<line x1="175.0" y1="991.5" x2="175.0" y2="1001.5" stroke="#2a2a2a" stroke-width="1.6"/>
<text x="174.6" y="1024.6" font-size="19.85" text-anchor="middle" font-family="Liberation Serif, serif" fill="#1a1a1a">20000</text>
<line x1="310.2" y1="991.5" x2="310.2" y2="1001.5" stroke="#2a2a2a" stroke-width="1.6"/>
<text x="310.2" y="1024.6" font-size="19.85" text-anchor="middle" font-family="Liberation Serif, serif" fill="#1a1a1a">15000</text>
<line x1="445.5" y1="991.5" x2="445.5" y2="1001.5" stroke="#2a2a2a" stroke-width="1.6"/>
<text x="446.6" y="1024.6" font-size="19.85" text-anchor="middle" font-family="Liberation Serif, serif" fill="#1a1a1a">10000</text>
<line x1="580.7" y1="991.5" x2="580.7" y2="1001.5" stroke="#2a2a2a" stroke-width="1.6"/>
<text x="584.7" y="1024.6" font-size="19.85" text-anchor="middle" font-family="Liberation Serif, serif" fill="#1a1a1a">5000</text>
<line x1="716.0" y1="991.5" x2="716.0" y2="1001.5" stroke="#2a2a2a" stroke-width="1.6"/>
<text x="716.0" y="1024.6" font-size="19.85" text-anchor="middle" font-family="Liberation Serif, serif" fill="#1a1a1a">0</text>
<text x="365.3" y="1054.2" font-size="19.8" font-family="Liberation Serif, serif" fill="#1a1a1a">cal yr BP</text>
<text transform="translate(14.9 792.2) rotate(-90)" font-size="20.3" text-anchor="middle" font-family="Liberation Serif, serif" fill="#1a1a1a">Depth (m)</text>
<text x="0" y="578.1" font-size="21.4" letter-spacing="0.5" font-family="Liberation Sans, sans-serif" fill="#1a1a1a">(b)</text>
<rect x="745.0" y="651.3" width="26.4" height="208.7" fill="#c8c8ca"/>
<rect x="745.0" y="860.0" width="26.4" height="64.1" fill="#929497"/>
<rect x="745.0" y="924.1" width="26.4" height="13.5" fill="#c8c8ca"/>
<rect x="745.0" y="943.0" width="26.4" height="36.8" fill="#929497"/>
<rect x="774.5" y="651.3" width="56.3" height="326.0" fill="#fff" stroke="#4a4a4a" stroke-width="1"/>
<line x1="774.5" y1="859.4" x2="830.8" y2="859.4" stroke="#4a4a4a" stroke-width="1"/>
<line x1="774.5" y1="924.1" x2="830.8" y2="924.1" stroke="#4a4a4a" stroke-width="1"/>
<line x1="774.5" y1="937.6" x2="830.8" y2="937.6" stroke="#4a4a4a" stroke-width="1"/>
<line x1="774.5" y1="942.7" x2="830.8" y2="942.7" stroke="#4a4a4a" stroke-width="1"/>
<text x="803.3" y="761.0" font-size="12" text-anchor="middle" font-family="Liberation Serif, serif" fill="#1a1a1a">2.5Y 2/0</text>
<text x="803.3" y="895.8" font-size="12" text-anchor="middle" font-family="Liberation Serif, serif" fill="#1a1a1a">2.5Y3/D</text>
<text x="803.3" y="935.6" font-size="12" text-anchor="middle" font-family="Liberation Serif, serif" fill="#1a1a1a">2.5Y 2/0</text>
<text x="803.3" y="963.9" font-size="12" text-anchor="middle" font-family="Liberation Serif, serif" fill="#1a1a1a">2.5Y3/D</text>
<rect x="139.2" y="1070.5" width="42.5" height="30" fill="#c8c8ca"/>
<text x="189.6" y="1089.6" font-size="19.3" font-family="Liberation Serif, serif" fill="#1a1a1a">Organic clay</text>
<rect x="310.7" y="1070.5" width="42.2" height="30" fill="#929497"/>
<text x="361" y="1089.6" font-size="19.3" font-family="Liberation Serif, serif" fill="#1a1a1a">Dark gray clay</text>
<rect x="493.5" y="1070.5" width="42.2" height="30" fill="#fff" stroke="#cfcfcf" stroke-width="1"/>
<text x="544.6" y="1089.6" font-size="19.3" font-family="Liberation Serif, serif" fill="#1a1a1a">Thin sand layer</text>
</svg>
</body></html>
